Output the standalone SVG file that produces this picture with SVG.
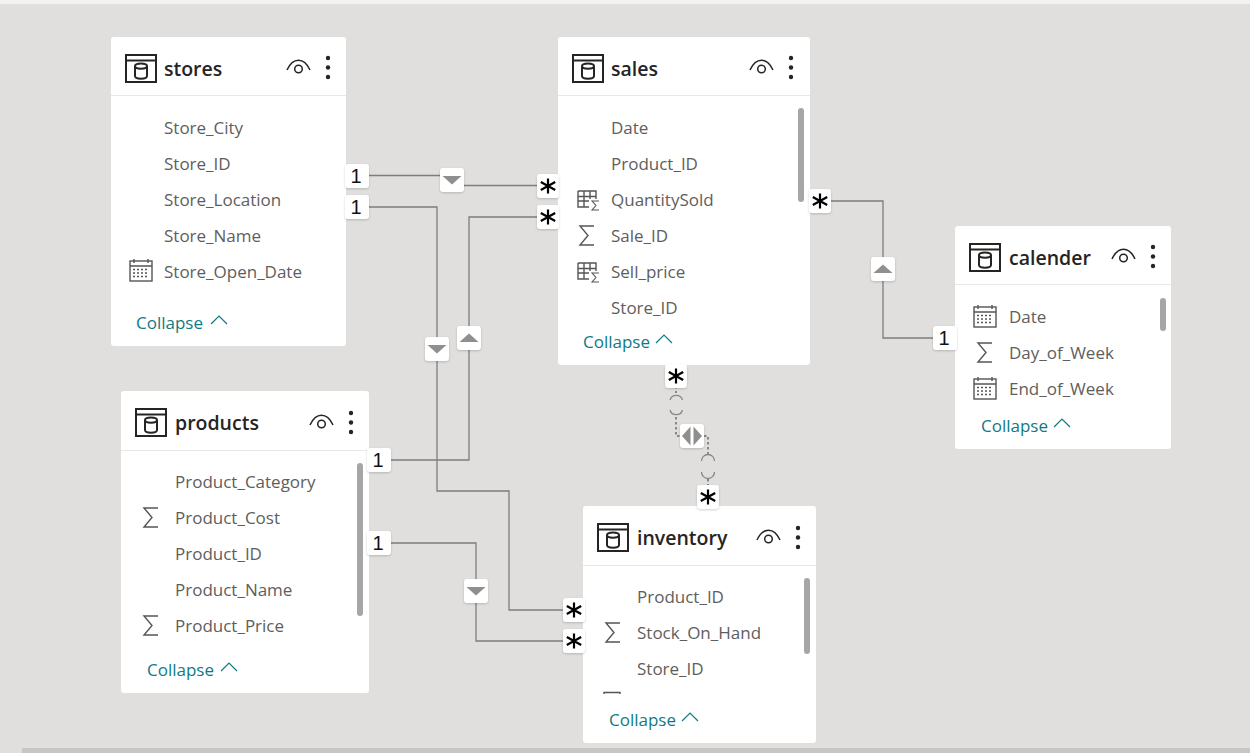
<svg xmlns="http://www.w3.org/2000/svg" width="1250" height="753" viewBox="0 0 1250 753">
<style>
.card{fill:#fff}
.sep{stroke:#e8e8e8;stroke-width:1}
.title{font:600 19.5px "Open Sans","Noto Sans",sans-serif;fill:#252423}
.f{font:17px "Open Sans","Noto Sans",sans-serif;fill:#605e5c}
.c{font:17px "Open Sans","Noto Sans",sans-serif;fill:#0f7a86}
.chev{fill:none;stroke:#0f7a86;stroke-width:1.2}
.ic{fill:none;stroke:#252423;stroke-width:2}
.g{fill:none;stroke:#555;stroke-width:1.400}
.sb{fill:#a6a6a6}
.l{fill:none;stroke:#7d7d7d;stroke-width:1.300}
.d{fill:none;stroke:#8a8886;stroke-width:2;stroke-dasharray:2.500 2.500}
.a{fill:none;stroke:#8a8886;stroke-width:1.300}
.b{fill:#fff;filter:drop-shadow(0 1px 1px rgba(0,0,0,.18))}
.tri{fill:#8f8f8f}
.o{font:20px "Liberation Sans",sans-serif;fill:#111;text-anchor:middle}
.s{fill:none;stroke:#000;stroke-width:2.200}
</style>
<defs>
<g id="tbl"><rect class="ic" x="1" y="1" width="30" height="27"/><path class="ic" d="M1 6.500H31"/><path class="ic" d="M10 12c0-3.500 12-3.500 12 0v10c0 3.500-12 3.500-12 0zM10 12c0 3.500 12 3.500 12 0"/></g>
<g id="eye"><path class="ic" style="stroke-width:1.500" d="M1 12C7-1 18-1 24 12"/><circle class="ic" style="stroke-width:1.500" cx="12.500" cy="11" r="3.800"/><g style="fill:#252423;stroke:none"><circle cx="42" cy="0" r="2.200"/><circle cx="42" cy="9.500" r="2.200"/><circle cx="42" cy="19" r="2.200"/></g></g>
<g id="sum"><path class="g" d="M15 1H1L9 10.500L1 20H15"/></g>
<g id="cal"><rect class="g" x="1" y="3" width="22" height="20"/><path class="g" d="M1 8H23M5 1V5M19 1V5"/><path class="g" stroke-dasharray="2 2" d="M4 11.500H20M4 15H20M4 18.500H20"/></g>
<g id="msr"><path class="g" d="M1 1H19V9M1 1V17H12M1 6.500H19M7 1V17M1 11H12M13 1V9"/><path class="g" style="stroke-width:1.100" d="M22 11H15L19 15.500L15 20H22"/></g>
<g id="chv"><path class="chev" d="M0 8L8 0L16 8"/></g>
<g id="star"><rect class="b" x="-11" y="-12" width="22" height="24" rx="3"/><path class="s" d="M0-7.500V7.500M-7.200-4L7.200 4M-7.200 4L7.200-4"/></g>
<g id="one"><rect class="b" x="-12" y="-12" width="24" height="24" rx="3"/><text class="o" x="-1" y="7">1</text></g>
<g id="dn"><rect class="b" x="-12" y="-12" width="24" height="24" rx="3"/><path class="tri" d="M-9.500-4H9.500L0 4.500Z"/></g>
<g id="up"><rect class="b" x="-12" y="-12" width="24" height="24" rx="3"/><path class="tri" d="M-9.500 4H9.500L0-4.500Z"/></g>
</defs>

<rect width="1250" height="753" fill="#e1dfdd"/>
<rect width="1250" height="4" fill="#f3f2f1"/>
<rect x="22" y="748" width="1228" height="5" fill="#c8c6c4"/>

<g id="connectors">
<path class="l" d="M357 175.500H452V185.500H548"/>
<path class="l" d="M357 207H437V491H509V610H574"/>
<path class="l" d="M378 460H469V217H548"/>
<path class="l" d="M378 543H476V641H574"/>
<path class="l" d="M820 201H883V338H945"/>
<path class="d" d="M676 376V393M676 417V436H680M704 436H708V455M708 479V487"/>
<path class="a" d="M670 400A6.500 6.500 0 0 1 682.500 400M670 410A6.500 6.500 0 0 0 682.500 410M701.500 461A6.500 6.500 0 0 1 714.500 461M701.500 472A6.500 6.500 0 0 0 714.500 472"/>
</g>

<g id="stores">
<rect class="card" x="111" y="37" width="235" height="309" rx="3"/>
<path class="sep" d="M111 95.500H346"/>
<use href="#tbl" x="125" y="54"/>
<text class="title" x="164" y="76">stores</text>
<use href="#eye" x="286" y="58"/>
<text class="f" x="164" y="134">Store_City</text>
<text class="f" x="164" y="170">Store_ID</text>
<text class="f" x="164" y="206">Store_Location</text>
<text class="f" x="164" y="242">Store_Name</text>
<use href="#cal" x="129" y="258"/>
<text class="f" x="164" y="278">Store_Open_Date</text>
<text class="c" x="136" y="329">Collapse</text>
<use href="#chv" x="211" y="316"/>
</g>

<g id="sales">
<rect class="card" x="558" y="37" width="252" height="328" rx="3"/>
<path class="sep" d="M558 95.500H810"/>
<use href="#tbl" x="572" y="54"/>
<text class="title" x="611" y="76">sales</text>
<use href="#eye" x="749" y="58"/>
<text class="f" x="611" y="134">Date</text>
<text class="f" x="611" y="170">Product_ID</text>
<use href="#msr" x="577" y="190"/>
<text class="f" x="611" y="206">QuantitySold</text>
<use href="#sum" x="579" y="225"/>
<text class="f" x="611" y="242">Sale_ID</text>
<use href="#msr" x="577" y="262"/>
<text class="f" x="611" y="278">Sell_price</text>
<text class="f" x="611" y="314">Store_ID</text>
<rect class="sb" x="798" y="108" width="6" height="94" rx="3"/>
<text class="c" x="583" y="348">Collapse</text>
<use href="#chv" x="656" y="335"/>
</g>

<g id="calender">
<rect class="card" x="955" y="226" width="216" height="223" rx="3"/>
<path class="sep" d="M955 284.500H1171"/>
<use href="#tbl" x="969" y="243"/>
<text class="title" x="1009" y="265">calender</text>
<use href="#eye" x="1111" y="247"/>
<use href="#cal" x="973" y="304"/>
<text class="f" x="1009" y="323">Date</text>
<use href="#sum" x="977" y="342"/>
<text class="f" x="1009" y="359">Day_of_Week</text>
<use href="#cal" x="973" y="376"/>
<text class="f" x="1009" y="395">End_of_Week</text>
<rect class="sb" x="1160" y="298" width="6" height="33" rx="3"/>
<text class="c" x="981" y="432">Collapse</text>
<use href="#chv" x="1054" y="419"/>
</g>

<g id="products">
<rect class="card" x="121" y="391" width="248" height="302" rx="3"/>
<path class="sep" d="M121 450.500H369"/>
<use href="#tbl" x="135" y="408"/>
<text class="title" x="175" y="430">products</text>
<use href="#eye" x="309" y="413"/>
<text class="f" x="175" y="488">Product_Category</text>
<use href="#sum" x="143" y="507"/>
<text class="f" x="175" y="524">Product_Cost</text>
<text class="f" x="175" y="560">Product_ID</text>
<text class="f" x="175" y="596">Product_Name</text>
<use href="#sum" x="143" y="615"/>
<text class="f" x="175" y="632">Product_Price</text>
<rect class="sb" x="357" y="463" width="6" height="153" rx="3"/>
<text class="c" x="147" y="676">Collapse</text>
<use href="#chv" x="221" y="663"/>
</g>

<g id="inventory">
<rect class="card" x="583" y="506" width="233" height="237" rx="3"/>
<path class="sep" d="M583 565.500H816"/>
<use href="#tbl" x="597" y="523"/>
<text class="title" x="637" y="545">inventory</text>
<use href="#eye" x="756" y="528"/>
<text class="f" x="637" y="603">Product_ID</text>
<use href="#sum" x="605" y="622"/>
<text class="f" x="637" y="639">Stock_On_Hand</text>
<text class="f" x="637" y="675">Store_ID</text>
<path d="M604 694V692.500H620V694" fill="none" stroke="#555" stroke-width="1.400"/>
<rect class="sb" x="804" y="578" width="6" height="76" rx="3"/>
<text class="c" x="609" y="726">Collapse</text>
<use href="#chv" x="682" y="713"/>
</g>

<g id="connector-badges">
<use href="#one" x="357" y="176"/>
<use href="#one" x="357" y="207"/>
<use href="#star" x="548" y="186"/>
<use href="#star" x="548" y="217"/>
<use href="#star" x="820" y="201"/>
<use href="#one" x="945" y="338"/>
<use href="#one" x="379" y="460"/>
<use href="#one" x="379" y="543"/>
<use href="#star" x="574" y="610"/>
<use href="#star" x="574" y="641"/>
<use href="#star" x="676" y="376"/>
<use href="#star" x="708" y="497"/>
<use href="#dn" x="452" y="180"/>
<use href="#dn" x="437" y="349"/>
<use href="#up" x="469" y="338"/>
<use href="#up" x="883" y="269"/>
<use href="#dn" x="476" y="591"/>
<rect class="b" x="680" y="424" width="24" height="24" rx="3"/>
<path class="tri" d="M690.500 426.500V445.500L682 436ZM693.500 426.500V445.500L702 436Z"/>
</g>
</svg>
